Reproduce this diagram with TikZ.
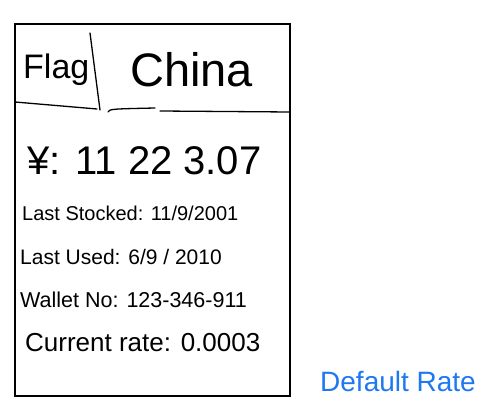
\documentclass[tikz,border=0pt]{standalone}
\usepackage{fontspec}
\setmainfont{Liberation Sans}
\definecolor{rateblue}{RGB}{30,120,240}
\tikzset{
  sketch/.style={line width=1.3pt, line cap=round, line join=round},
  entry/.style={anchor=west, inner sep=0pt},
}
\begin{document}
\begin{tikzpicture}[x=1pt, y=-1pt]
    \useasboundingbox (0,0) rectangle (500,417);

    % Card outline
    \draw[line width=2pt] (15,24) rectangle (290,396);

    % Header with flag divider
    \draw[sketch] (15,102) -- (97,109);
    \draw[sketch] (90,33) -- (100,110);
    \draw[sketch] (108,112) .. controls (110,109) .. (155,108);
    \draw[sketch] (160,111) -- (290,112);

    \node[entry, font=\fontsize{34}{38}\selectfont] (flag) at (23,70) {Flag};
    \node[entry, font=\fontsize{47}{52}\selectfont] (country) at (130,70) {China};

    % Wallet details
    \node[entry, font=\fontsize{40}{44}\selectfont] (balance) at (27,161) {¥: 11 22 3.07};
    \node[entry, font=\fontsize{20}{24}\selectfont] (stocked) at (22,213) {Last Stocked: 11/9/2001};
    \node[entry, font=\fontsize{21}{24}\selectfont] (used) at (20,257) {Last Used: 6/9 / 2010};
    \node[entry, font=\fontsize{21.5}{24}\selectfont] (walletno) at (20,300) {Wallet No: 123-346-911};
    \node[entry, font=\fontsize{26}{30}\selectfont] (rate) at (25,343) {Current rate: 0.0003};

    % Side note
    \node[entry, text=rateblue, font=\fontsize{28}{32}\selectfont] (default) at (320,381) {Default Rate};
\end{tikzpicture}
\end{document}
